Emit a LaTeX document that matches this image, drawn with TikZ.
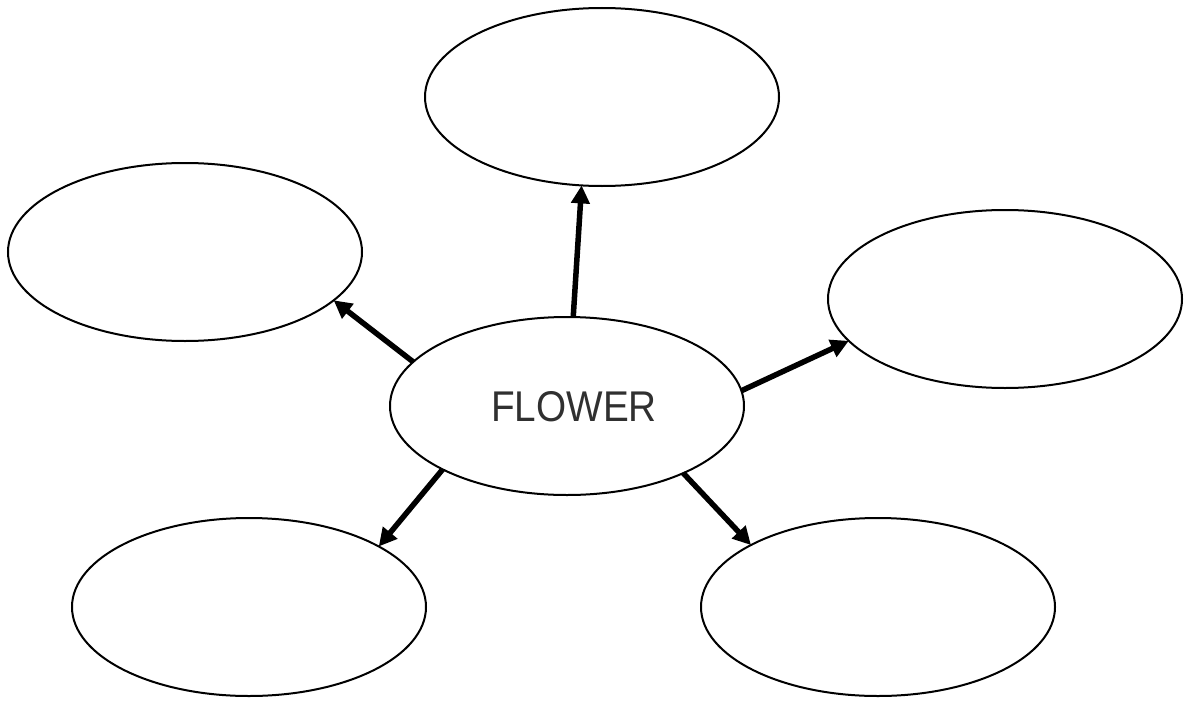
\documentclass[tikz,border=0pt]{standalone}
\usepackage{fontspec}
\setmainfont{Liberation Sans}
\usetikzlibrary{shapes.geometric,arrows.meta}
\definecolor{txt}{HTML}{303030}
\begin{document}
\begin{tikzpicture}[x=1pt,y=-1pt,
  bubble/.style={ellipse,draw=black,line width=2pt,minimum width=354pt,minimum height=178pt,inner sep=0pt,outer sep=0pt},
  link/.style={line width=5.5pt,-{Triangle[length=18pt,width=18pt]}}]
\useasboundingbox (0,0) rectangle (1188,701);
\node[bubble] (c) at (567,406) {};
\node[font=\fontsize{43}{50}\selectfont,text=txt] (t) at (574,407) {\scalebox{0.9}[1]{FLOWER}};
\node[bubble] (top) at (602,97) {};
\node[bubble] (l) at (185,252) {};
\node[bubble] (r) at (1005,299) {};
\node[bubble] (bl) at (249,607) {};
\node[bubble] (br) at (878,607) {};
\draw[link] (c.86.9) -- (top.257.6);
\draw[link] (c.164.5) -- (l.342);
\draw[link] (c.5.2) -- (r.195.2);
\draw[link] (c.207.4) -- (bl.25.3);
\draw[link] (c.330.8) -- (br.154.6);
\end{tikzpicture}
\end{document}
